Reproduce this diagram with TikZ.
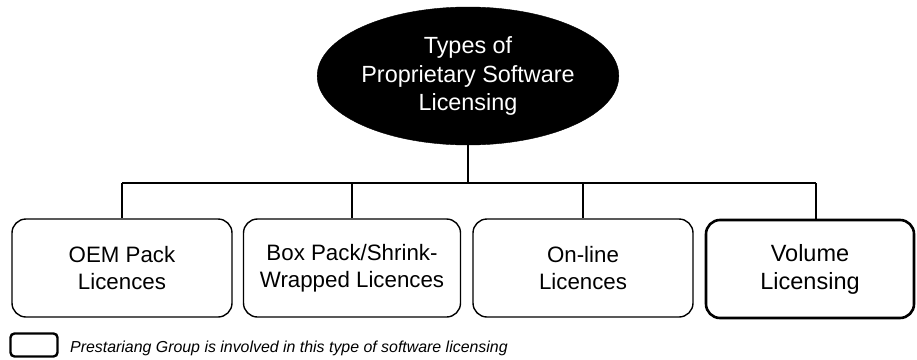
\documentclass[tikz,border=0pt]{standalone}
\usepackage{fontspec}
\setmainfont{Liberation Sans}
\usetikzlibrary{shapes.geometric}
\tikzset{
  conn/.style={line width=1.4pt, draw=black},
  rootnode/.style={ellipse, fill=black, draw=black, text=white, inner sep=0pt,
    minimum width=240pt, minimum height=138pt, align=center,
    font=\fontsize{23.4}{28.5}\selectfont},
  typebox/.style={rectangle, rounded corners=14pt, draw=black, line width=1.4pt,
    minimum height=98pt, align=center, inner sep=0pt,
    font=\fontsize{22.3}{27}\selectfont},
  keybox/.style={typebox, line width=2.6pt, font=\fontsize{23.5}{28}\selectfont},
  legendbox/.style={rectangle, rounded corners=4pt, draw=black, line width=2.4pt,
    minimum width=47pt, minimum height=23pt, inner sep=0pt},
  legendtext/.style={anchor=base west, inner sep=0pt,
    font=\fontsize{15.9}{18}\selectfont\itshape}
}
\begin{document}
\begin{tikzpicture}[x=1pt,y=-1pt]
  \useasboundingbox (0,0) rectangle (917,359);

  % top-level category
  \node[rootnode] (root) at (468,76) {Types of\\Proprietary Software\\Licensing};

  % licence types
  \node[typebox, minimum width=220pt] (b1) at (122,268) {OEM Pack\\Licences};
  \node[typebox, minimum width=217pt] (b2) at (352,268) {Box Pack/Shrink-\\Wrapped Licences};
  \node[typebox, minimum width=220pt] (b3) at (583,268) {On-line\\Licences};
  \node[keybox, minimum width=208pt] (b4) at (810,269) {Volume\\Licensing};

  % tree connectors
  \coordinate (hub) at (468,183);
  \coordinate (j1) at (122,183);
  \coordinate (j2) at (352,183);
  \coordinate (j3) at (583,183);
  \coordinate (j4) at (816,183);
  \draw[conn] (root) -- (hub);
  \draw[conn] (j1) -- (j4);
  \draw[conn] (j1) -- (b1);
  \draw[conn] (j2) -- (b2);
  \draw[conn] (j3) -- (b3);
  \draw[conn] (j4) -- (j4 |- b4.north);

  % legend
  \node[legendbox] (key) at (34,345) {};
  \node[legendtext] (keytext) at (70,352) {Prestariang Group is involved in this type of software licensing};
\end{tikzpicture}
\end{document}
